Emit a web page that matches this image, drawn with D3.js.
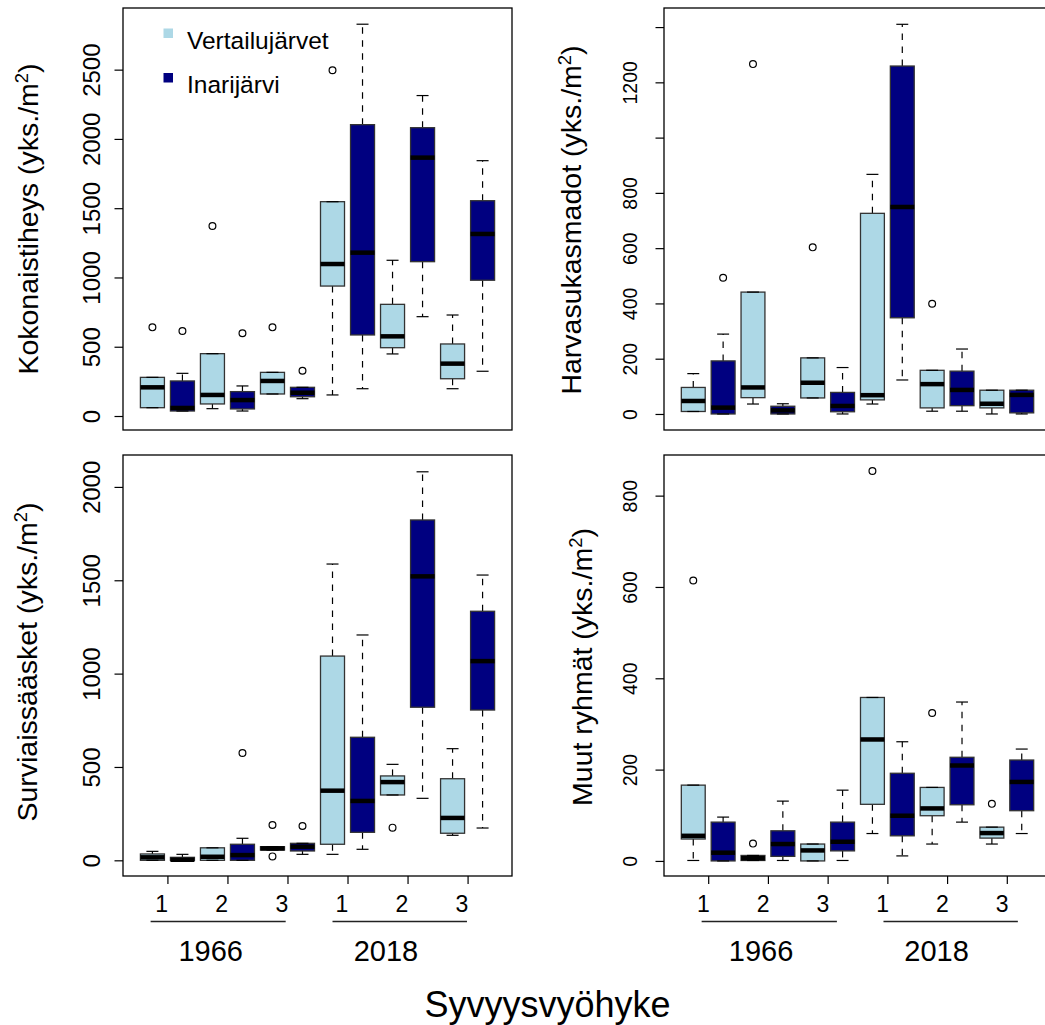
<!DOCTYPE html>
<html>
<head>
<meta charset="utf-8">
<script src="https://cdn.jsdelivr.net/npm/d3@7"></script>
<style>
  body { margin: 0; background: #fff; }
  svg { display: block; }
  text { font-family: "Liberation Sans", Arial, Helvetica, sans-serif; fill: #000; }
</style>
</head>
<body>
<svg id="chart" width="1045" height="1025"></svg>
<script>
// ---- categories -------------------------------------------------------
const years = ["1966", "2018"];
const zones = ["1", "2", "3"];
const lakes = ["Vertailujärvet", "Inarijärvi"];
const lakeColors = ["#ADD8E6", "#000080"];

// box order: year > zone > lake (Vertailujärvet, Inarijärvi)
const boxes = [];
years.forEach(y => zones.forEach(z => lakes.forEach((l, li) => boxes.push({ year: y, zone: z, lake: l, li }))));

// ---- Kokonaistiheys (total density, ind./m2) ---------------------------
const totLow  = [60, 36, 53, 36, 159, 125, 152, 197, 448, 717, 197, 323];
const totQ1   = [60, 36, 87, 51, 159, 139, 938, 585, 493, 1114, 269, 980];
const totMed  = [207, 58, 152, 115, 253, 168, 1097, 1179, 575, 1865, 378, 1314];
const totQ3   = [279, 253, 450, 176, 315, 207, 1547, 2103, 806, 2081, 520, 1554];
const totHigh = [279, 308, 450, 217, 315, 207, 1547, 2828, 1124, 2313, 729, 1843];
const totOut  = [[640], [614], [1372], [597], [640], [327], [2496], [], [], [], [], []];
const totTicks = [0, 500, 1000, 1500, 2000, 2500];
const totTickLabels = ["0", "500", "1000", "1500", "2000", "2500"];

// ---- Harvasukasmadot (oligochaetes) ------------------------------------
const oliLow  = [9, 0, 36, 0, 58, 0, 36, 123, 10, 10, 0, 0];
const oliQ1   = [9, 0, 59, 0, 58, 8, 51, 348, 22, 30, 22, 4];
const oliMed  = [47, 23, 96, 13, 113, 29, 68, 749, 108, 87, 37, 69];
const oliQ3   = [96, 192, 441, 28, 203, 78, 726, 1259, 158, 155, 86, 86];
const oliHigh = [146, 289, 441, 37, 203, 168, 867, 1410, 158, 235, 86, 86];
const oliOut  = [[], [493], [1266], [], [603], [], [], [], [399], [], [], []];
const oliTicks = [0, 200, 400, 600, 800, 1000, 1200, 1400];
const oliTickLabels = ["0", "200", "400", "600", "800", "", "1200", ""];

// ---- Surviaissääsket (chironomids) -------------------------------------
const chiLow  = [0, 0, 0, 0, 55, 32, 32, 59, 350, 332, 134, 173];
const chiQ1   = [0, 0, 0, 0, 55, 50, 86, 150, 350, 820, 145, 805];
const chiMed  = [16, 3, 19, 28, 64, 73, 373, 318, 419, 1521, 227, 1067];
const chiQ3   = [34, 16, 67, 86, 73, 91, 1094, 659, 452, 1823, 437, 1334];
const chiHigh = [48, 32, 67, 118, 73, 91, 1587, 1207, 514, 2081, 598, 1528];
const chiOut  = [[], [], [], [575], [189, 21], [184], [], [], [175], [], [], []];
const chiTicks = [0, 500, 1000, 1500, 2000];
const chiTickLabels = ["0", "500", "1000", "1500", "2000"];

// ---- Muut ryhmät (other groups) ----------------------------------------
const othLow  = [1, 0, 1, 1, 0, 1, 60, 11, 37, 85, 37, 60];
const othQ1   = [48, 0, 1, 10, 0, 22, 124, 55, 99, 123, 50, 110];
const othMed  = [55, 18, 6, 37, 23, 42, 266, 99, 115, 209, 61, 173];
const othQ3   = [166, 85, 12, 66, 37, 85, 358, 192, 161, 227, 74, 221];
const othHigh = [166, 96, 12, 131, 37, 155, 358, 261, 161, 348, 74, 245];
const othOut  = [[614], [], [38], [], [], [], [854], [], [324], [], [125], []];
const othTicks = [0, 200, 400, 600, 800];
const othTickLabels = ["0", "200", "400", "600", "800"];

// ---- x-axis labels ------------------------------------------------------
const zoneTickPos = [1.5, 3.5, 5.5, 7.5, 9.5, 11.5];
const zoneLabels = ["1", "2", "3", "1", "2", "3"];
const xTitle = "Syvyysvyöhyke";
const unitText = " (yks./m";

// ---- layout -------------------------------------------------------------
const svg = d3.select("#chart");
svg.append("rect").attr("width", 1045).attr("height", 1025).attr("fill", "#fff");

const panels = [
  { title: "Kokonaistiheys", low: totLow, q1: totQ1, med: totMed, q3: totQ3, high: totHigh, out: totOut,
    ticks: totTicks, tickLabels: totTickLabels,
    left: 123, right: 512, top: 8, bottom: 430, yDomain: [-101, 2945],
    tickLabelX: 100, tickFont: 24, titleX: 37.5, titleY: 219, legend: true, xAxis: false },
  { title: "Harvasukasmadot", low: oliLow, q1: oliQ1, med: oliMed, q3: oliQ3, high: oliHigh, out: oliOut,
    ticks: oliTicks, tickLabels: oliTickLabels,
    left: 664, right: 1051, top: 8, bottom: 430, yDomain: [-58, 1469],
    tickLabelX: 636.5, tickFont: 19.5, titleX: 581, titleY: 220, legend: false, xAxis: false },
  { title: "Surviaissääsket", low: chiLow, q1: chiQ1, med: chiMed, q3: chiQ3, high: chiHigh, out: chiOut,
    ticks: chiTicks, tickLabels: chiTickLabels,
    left: 123, right: 512, top: 455, bottom: 876, yDomain: [-84, 2171],
    tickLabelX: 100, tickFont: 24, titleX: 37, titleY: 662, legend: false, xAxis: true,
    zoneLabelPos: 1.31, lines: [[0.94, 5.44], [7.0, 11.48]], yearPos: [2.94, 8.78] },
  { title: "Muut ryhmät", low: othLow, q1: othQ1, med: othMed, q3: othQ3, high: othHigh, out: othOut,
    ticks: othTicks, tickLabels: othTickLabels,
    left: 664, right: 1051, top: 455, bottom: 876, yDomain: [-33, 889],
    tickLabelX: 636.5, tickFont: 19.5, titleX: 592, titleY: 667, legend: false, xAxis: true,
    zoneLabelPos: 1.34, lines: [[1.28, 5.81], [7.37, 11.87]], yearPos: [3.27, 9.15] }
];

const boxWex = 0.8, stapleWex = 0.4;

panels.forEach(p => {
  const x = d3.scaleLinear().domain([0.02, 12.98]).range([p.left, p.right]);
  const y = d3.scaleLinear().domain(p.yDomain).range([p.bottom, p.top]);
  const g = svg.append("g");
  const unit = x(1) - x(0);

  // y axis with rotated labels
  const yAxis = d3.axisLeft(y).tickValues(p.ticks)
    .tickFormat((d, i) => p.tickLabels[i]).tickSize(8.5).tickPadding(0);
  const ya = g.append("g").attr("transform", `translate(${p.left},0)`).call(yAxis);
  ya.select(".domain").remove();
  ya.selectAll(".tick line").attr("stroke", "#000").attr("stroke-width", 1.2);
  ya.selectAll(".tick text")
    .attr("x", null).attr("dy", null)
    .attr("text-anchor", "middle")
    .attr("font-size", p.tickFont)
    .attr("font-family", '"Liberation Sans", Arial, sans-serif')
    .attr("transform", `translate(${p.tickLabelX - p.left},0) rotate(-90)`);

  // y title with superscript unit
  const t = g.append("text")
    .attr("transform", `translate(${p.titleX},${p.titleY}) rotate(-90)`)
    .attr("text-anchor", "middle")
    .attr("font-size", 28.5);
  t.append("tspan").text(p.title + unitText);
  t.append("tspan").attr("font-size", 18.5).attr("dy", -10).text("2");
  t.append("tspan").attr("dy", 10).text(")");

  // boxes
  const bg = g.selectAll("g.box").data(boxes).join("g").attr("class", "box");
  bg.each(function (b, i) {
    const s = d3.select(this);
    const cx = x(i + 1);
    const hw = unit * boxWex / 2;
    const sw = unit * stapleWex / 2;
    // whiskers
    [[p.q3[i], p.high[i]], [p.q1[i], p.low[i]]].forEach(([a, c]) => {
      if (a !== c) {
        s.append("line").attr("x1", cx).attr("x2", cx).attr("y1", y(a)).attr("y2", y(c))
          .attr("stroke", "#000").attr("stroke-width", 1.2).attr("stroke-dasharray", "6.5,6.5");
      }
    });
    // box body
    s.append("rect")
      .attr("x", cx - hw).attr("width", hw * 2)
      .attr("y", y(p.q3[i])).attr("height", Math.max(0.5, y(p.q1[i]) - y(p.q3[i])))
      .attr("fill", lakeColors[b.li]).attr("stroke", "#333").attr("stroke-width", 1.3);
    // staples
    [p.high[i], p.low[i]].forEach(v => {
      s.append("line").attr("x1", cx - sw).attr("x2", cx + sw).attr("y1", y(v)).attr("y2", y(v))
        .attr("stroke", "#000").attr("stroke-width", 1.2);
    });
    // median
    s.append("line").attr("x1", cx - hw).attr("x2", cx + hw)
      .attr("y1", y(p.med[i])).attr("y2", y(p.med[i]))
      .attr("stroke", "#000").attr("stroke-width", 4.5);
    // outliers
    p.out[i].forEach(v => {
      s.append("circle").attr("cx", cx).attr("cy", y(v)).attr("r", 3.4)
        .attr("fill", "none").attr("stroke", "#000").attr("stroke-width", 1.2);
    });
  });

  // frame
  g.append("rect").attr("x", p.left).attr("y", p.top)
    .attr("width", p.right - p.left).attr("height", p.bottom - p.top)
    .attr("fill", "none").attr("stroke", "#000").attr("stroke-width", 1.3);

  // legend
  if (p.legend) {
    const lg = g.append("g");
    lakes.forEach((l, li) => {
      const ly = 28.5 + li * 44.5;
      lg.append("rect").attr("x", 163.5).attr("y", ly).attr("width", 9.5).attr("height", 9.5)
        .attr("fill", lakeColors[li]);
      lg.append("text").attr("x", 187).attr("y", ly + 20).attr("font-size", 24.5).text(l);
    });
  }

  // x axis: zone ticks, labels, year bars
  if (p.xAxis) {
    const xAxis = d3.axisBottom(x).tickValues(zoneTickPos).tickFormat("").tickSize(8);
    const xa = g.append("g").attr("transform", `translate(0,${p.bottom})`).call(xAxis);
    xa.select(".domain").remove();
    xa.selectAll(".tick line").attr("stroke", "#000").attr("stroke-width", 1.2);

    g.selectAll("text.zone").data(zoneLabels).join("text").attr("class", "zone")
      .attr("x", (d, i) => x(p.zoneLabelPos + 2 * i)).attr("y", 911.5)
      .attr("text-anchor", "middle").attr("font-size", 23).text(d => d);

    p.lines.forEach(([a, c]) => {
      g.append("line").attr("x1", x(a)).attr("x2", x(c)).attr("y1", 921.5).attr("y2", 921.5)
        .attr("stroke", "#222").attr("stroke-width", 1.4);
    });
    years.forEach((yr, i) => {
      g.append("text").attr("x", x(p.yearPos[i])).attr("y", 961)
        .attr("text-anchor", "middle").attr("font-size", 29).text(yr);
    });
  }
});

// common x title
svg.append("text").attr("x", 547.5).attr("y", 1017)
  .attr("text-anchor", "middle").attr("font-size", 36).text(xTitle);
</script>
</body>
</html>
